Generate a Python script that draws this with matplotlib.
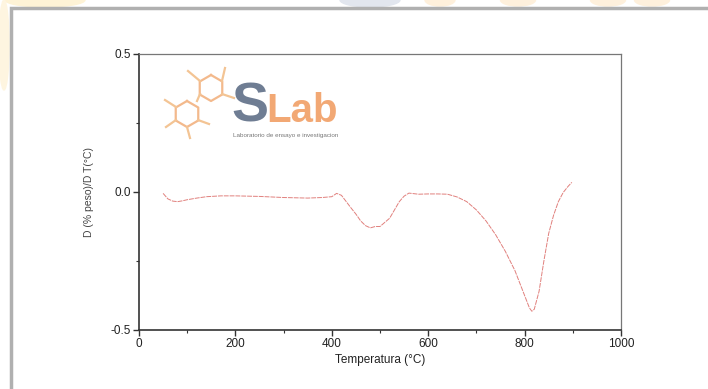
"""
DTG curve with SLab logo, rebuilt from a screenshot
"""

import numpy as np
import matplotlib
matplotlib.use("Agg")
import matplotlib.pyplot as plt
from matplotlib.patches import Rectangle, Ellipse

# data
temperatura = [50, 60, 70, 80, 90, 100, 120, 140, 170, 200, 250, 300, 350, 380,
               400, 410, 420, 430, 440, 450, 460, 470, 480, 490, 500, 510, 520,
               530, 540, 550, 560, 570, 580, 600, 620, 640, 660, 680, 700, 720,
               740, 760, 780, 790, 800, 810, 815, 820, 830, 840, 850, 860, 870,
               880, 890, 898]
dtg = [-0.005, -0.025, -0.033, -0.035, -0.032, -0.028, -0.022, -0.017, -0.014,
       -0.014, -0.016, -0.020, -0.022, -0.020, -0.017, -0.005, -0.012, -0.035,
       -0.058, -0.080, -0.105, -0.122, -0.130, -0.125, -0.125, -0.110, -0.095,
       -0.065, -0.035, -0.015, -0.004, -0.006, -0.008, -0.007, -0.007, -0.008,
       -0.018, -0.035, -0.065, -0.105, -0.155, -0.215, -0.285, -0.330, -0.375,
       -0.420, -0.432, -0.425, -0.360, -0.250, -0.150, -0.085, -0.035, -0.002,
       0.020, 0.035]

x_ticks = [0, 200, 400, 600, 800, 1000]
y_ticks = [-0.5, 0.0, 0.5]
y_tick_labels = ["-0.5", "0.0", "0.5"]

W, H = 708, 389


def px(x, y):
    # pixel position (from top left) -> figure fraction
    return x / W, 1 - y / H


def line(fig, pts, color, lw=1.6):
    xs = [p[0] / W for p in pts]
    ys = [1 - p[1] / H for p in pts]
    fig.add_artist(plt.Line2D(xs, ys, color=color, linewidth=lw,
                              transform=fig.transFigure, zorder=3))


def main():
    plt.rcParams["font.family"] = ["Liberation Sans", "DejaVu Sans"]

    fig = plt.figure(figsize=(W / 100, H / 100), dpi=100)

    # faint watermark behind the frame
    blobs = [(45, 0, 80, 14, "#fef3d6"), (4, 45, 10, 90, "#fef5e0"),
             (370, 0, 60, 14, "#e2e6ee"), (440, 0, 30, 12, "#fef0dc"),
             (518, 0, 35, 12, "#fef0dc"), (608, 0, 35, 12, "#fef0dc"),
             (652, 0, 35, 12, "#fef0dc")]
    for bx, by, bw, bh, c in blobs:
        fig.patches.append(Ellipse(px(bx, by), bw / W, bh / H, color=c,
                                   transform=fig.transFigure, zorder=0))

    # white panel with grey border
    x0, y0 = px(11, 8)
    fig.patches.append(Rectangle((x0, -0.1), 1.2, y0 + 0.1, facecolor="white",
                                 edgecolor="#b0b0b0", linewidth=2.5,
                                 transform=fig.transFigure, zorder=1))

    ax = fig.add_axes([139 / W, 1 - 330 / H, (621 - 139) / W, (330 - 54) / H])
    ax.set_zorder(2)
    ax.patch.set_alpha(0)

    ax.plot(temperatura, dtg, color="#d9605c", linewidth=0.7,
            linestyle=(0, (5, 1)), alpha=0.8)

    ax.set_xlim(0, 1000)
    ax.set_ylim(-0.5, 0.5)
    ax.set_xticks(x_ticks)
    ax.set_xticks([100, 300, 500, 700, 900], minor=True)
    ax.set_yticks(y_ticks)
    ax.set_yticklabels(y_tick_labels)
    ax.set_yticks([-0.25, 0.25], minor=True)
    ax.tick_params(which="major", length=4, width=1.0, color="#333333",
                   labelsize=8.5, labelcolor="#222222", pad=2)
    ax.tick_params(which="minor", length=2.5, width=0.8, color="#333333")

    for side in ["left", "bottom"]:
        ax.spines[side].set_color("#333333")
        ax.spines[side].set_linewidth(1.2)
    for side in ["top", "right"]:
        ax.spines[side].set_color("#777777")
        ax.spines[side].set_linewidth(0.9)

    ax.set_xlabel("Temperatura (°C)", fontsize=8.5, color="#222222", labelpad=3)
    ax.set_ylabel("D (% peso)/D T(°C)", fontsize=7.5, color="#444444", labelpad=12)

    # SLab logo: two hexagons with bond stubs
    ang = np.radians(90 + 60 * np.arange(7))
    for hx, hy in [(211, 88), (187, 114)]:
        pts = [(hx + 13 * np.cos(a), hy - 13 * np.sin(a)) for a in ang]
        line(fig, pts, "#f3b98c")
    bonds = [((200, 81), (188, 71)), ((222, 81), (225, 68)),
             ((222, 94), (234, 98)), ((176, 107), (165, 100)),
             ((176, 120), (166, 127)), ((187, 127), (190, 138)),
             ((198, 120), (209, 124)), ((200, 94), (197, 101))]
    for p0, p1 in bonds:
        line(fig, [p0, p1], "#f3c494")
    sx, sy = px(231, 122)
    fig.text(sx, sy, "S", fontsize=40, color="#6f7d93", fontweight="bold",
             ha="left", va="baseline", zorder=4)
    lx, ly = px(266, 122)
    fig.text(lx, ly, "Lab", fontsize=29, color="#f2a874", fontweight="bold",
             ha="left", va="baseline", zorder=4)
    tx, ty = px(233, 135)
    fig.text(tx, ty, "Laboratorio de ensayo e investigacion", fontsize=4.5,
             color="#777777", ha="left", va="center", zorder=4)

    fig.savefig("out.png", dpi=100)
    return 0


if __name__ == "__main__":
    main()
